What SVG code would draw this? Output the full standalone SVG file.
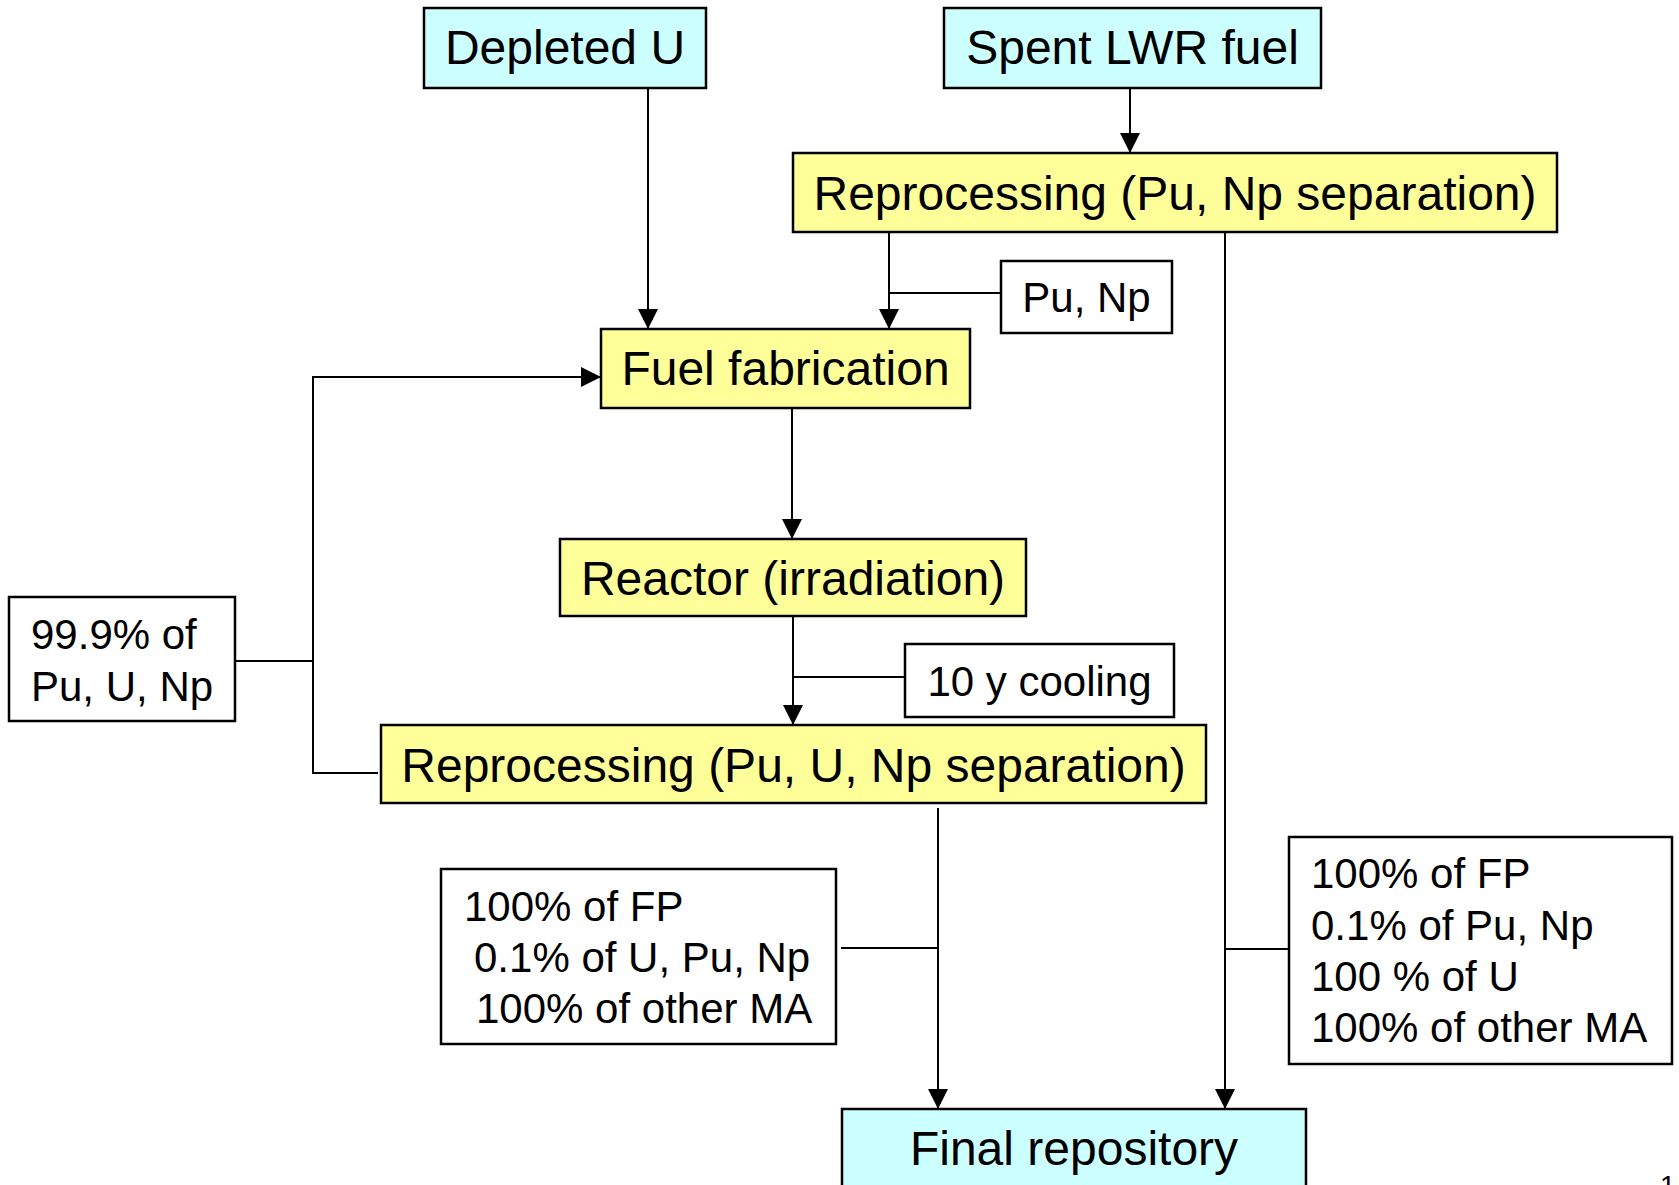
<svg xmlns="http://www.w3.org/2000/svg" width="1679" height="1185" viewBox="0 0 1679 1185">
  <style>
    .box { stroke: #000; stroke-width: 2.5; }
    .src { fill: #CCFFFF; }
    .proc { fill: #FFFF99; }
    .note { fill: #FFFFFF; }
    .big { font-family: "Liberation Sans", Arial, sans-serif; font-size: 48px; fill: #000; text-anchor: middle; }
    .small { font-family: "Liberation Sans", Arial, sans-serif; font-size: 42px; fill: #000; }
    .mid { text-anchor: middle; }
    .link { fill: none; stroke: #000; stroke-width: 2; }
  </style>
  <defs>
    <marker id="arrow" markerUnits="userSpaceOnUse" markerWidth="20" markerHeight="20" refX="20" refY="10" orient="auto">
      <path d="M0,0 L20,10 L0,20 Z" fill="#000"/>
    </marker>
  </defs>

  <rect width="1679" height="1185" fill="#FFFFFF"/>

  <!-- connectors -->
  <g id="connectors">
    <line class="link" x1="648" y1="88" x2="648" y2="329" marker-end="url(#arrow)"/>
    <line class="link" x1="1130" y1="88" x2="1130" y2="153" marker-end="url(#arrow)"/>
    <line class="link" x1="889" y1="232" x2="889" y2="329" marker-end="url(#arrow)"/>
    <line class="link" x1="889" y1="293" x2="1001" y2="293"/>
    <line class="link" x1="1225" y1="232" x2="1225" y2="1109" marker-end="url(#arrow)"/>
    <line class="link" x1="1225" y1="949" x2="1289" y2="949"/>
    <line class="link" x1="792" y1="408" x2="792" y2="539" marker-end="url(#arrow)"/>
    <line class="link" x1="793" y1="616" x2="793" y2="725" marker-end="url(#arrow)"/>
    <line class="link" x1="793" y1="677" x2="905" y2="677"/>
    <polyline class="link" points="378,773 313,773 313,377 601,377" marker-end="url(#arrow)"/>
    <line class="link" x1="235" y1="661" x2="313" y2="661"/>
    <line class="link" x1="938" y1="808" x2="938" y2="1109" marker-end="url(#arrow)"/>
    <line class="link" x1="841" y1="948" x2="938" y2="948"/>
  </g>

  <!-- nodes -->
  <g id="depleted-u">
    <rect class="box src" x="424" y="8" width="282" height="80"/>
    <text class="big" x="565" y="64">Depleted U</text>
  </g>

  <g id="spent-lwr-fuel">
    <rect class="box src" x="944" y="8" width="377" height="80"/>
    <text class="big" x="1132.5" y="64">Spent LWR fuel</text>
  </g>

  <g id="reprocessing-pu-np">
    <rect class="box proc" x="793" y="153" width="764" height="79"/>
    <text class="big" x="1175" y="210">Reprocessing (Pu, Np separation)</text>
  </g>

  <g id="pu-np">
    <rect class="box note" x="1001" y="261" width="171" height="72"/>
    <text class="small mid" x="1086.5" y="312">Pu, Np</text>
  </g>

  <g id="fuel-fabrication">
    <rect class="box proc" x="601" y="329" width="369" height="79"/>
    <text class="big" x="785.5" y="385">Fuel fabrication</text>
  </g>

  <g id="reactor">
    <rect class="box proc" x="560" y="539" width="466" height="77"/>
    <text class="big" x="793" y="595">Reactor (irradiation)</text>
  </g>

  <g id="cooling">
    <rect class="box note" x="905" y="644" width="269" height="73"/>
    <text class="small mid" x="1039.5" y="696">10 y cooling</text>
  </g>

  <g id="reprocessing-pu-u-np">
    <rect class="box proc" x="381" y="725" width="825" height="78"/>
    <text class="big" x="793.5" y="782">Reprocessing (Pu, U, Np separation)</text>
  </g>

  <g id="recycled">
    <rect class="box note" x="9" y="597" width="226" height="124"/>
    <text class="small" x="31" y="649">99.9% of</text>
    <text class="small" x="31" y="701">Pu, U, Np</text>
  </g>

  <g id="waste-closed-cycle">
    <rect class="box note" x="441" y="869" width="395" height="175"/>
    <text class="small" x="464" y="921">100% of FP</text>
    <text class="small" x="474" y="972">0.1% of U, Pu, Np</text>
    <text class="small" x="476" y="1023">100% of other MA</text>
  </g>

  <g id="waste-lwr-reprocessing">
    <rect class="box note" x="1289" y="837" width="383" height="227"/>
    <text class="small" x="1311" y="888">100% of FP</text>
    <text class="small" x="1311" y="940">0.1% of Pu, Np</text>
    <text class="small" x="1311" y="991">100 % of U</text>
    <text class="small" x="1311" y="1042">100% of other MA</text>
  </g>

  <g id="final-repository">
    <rect class="box src" x="842" y="1109" width="464" height="120"/>
    <text class="big" x="1074" y="1165">Final repository</text>
  </g>

  <!-- page number, cut at the bottom edge -->
  <text class="small" x="1660" y="1195" style="font-size:28px">1</text>
</svg>
